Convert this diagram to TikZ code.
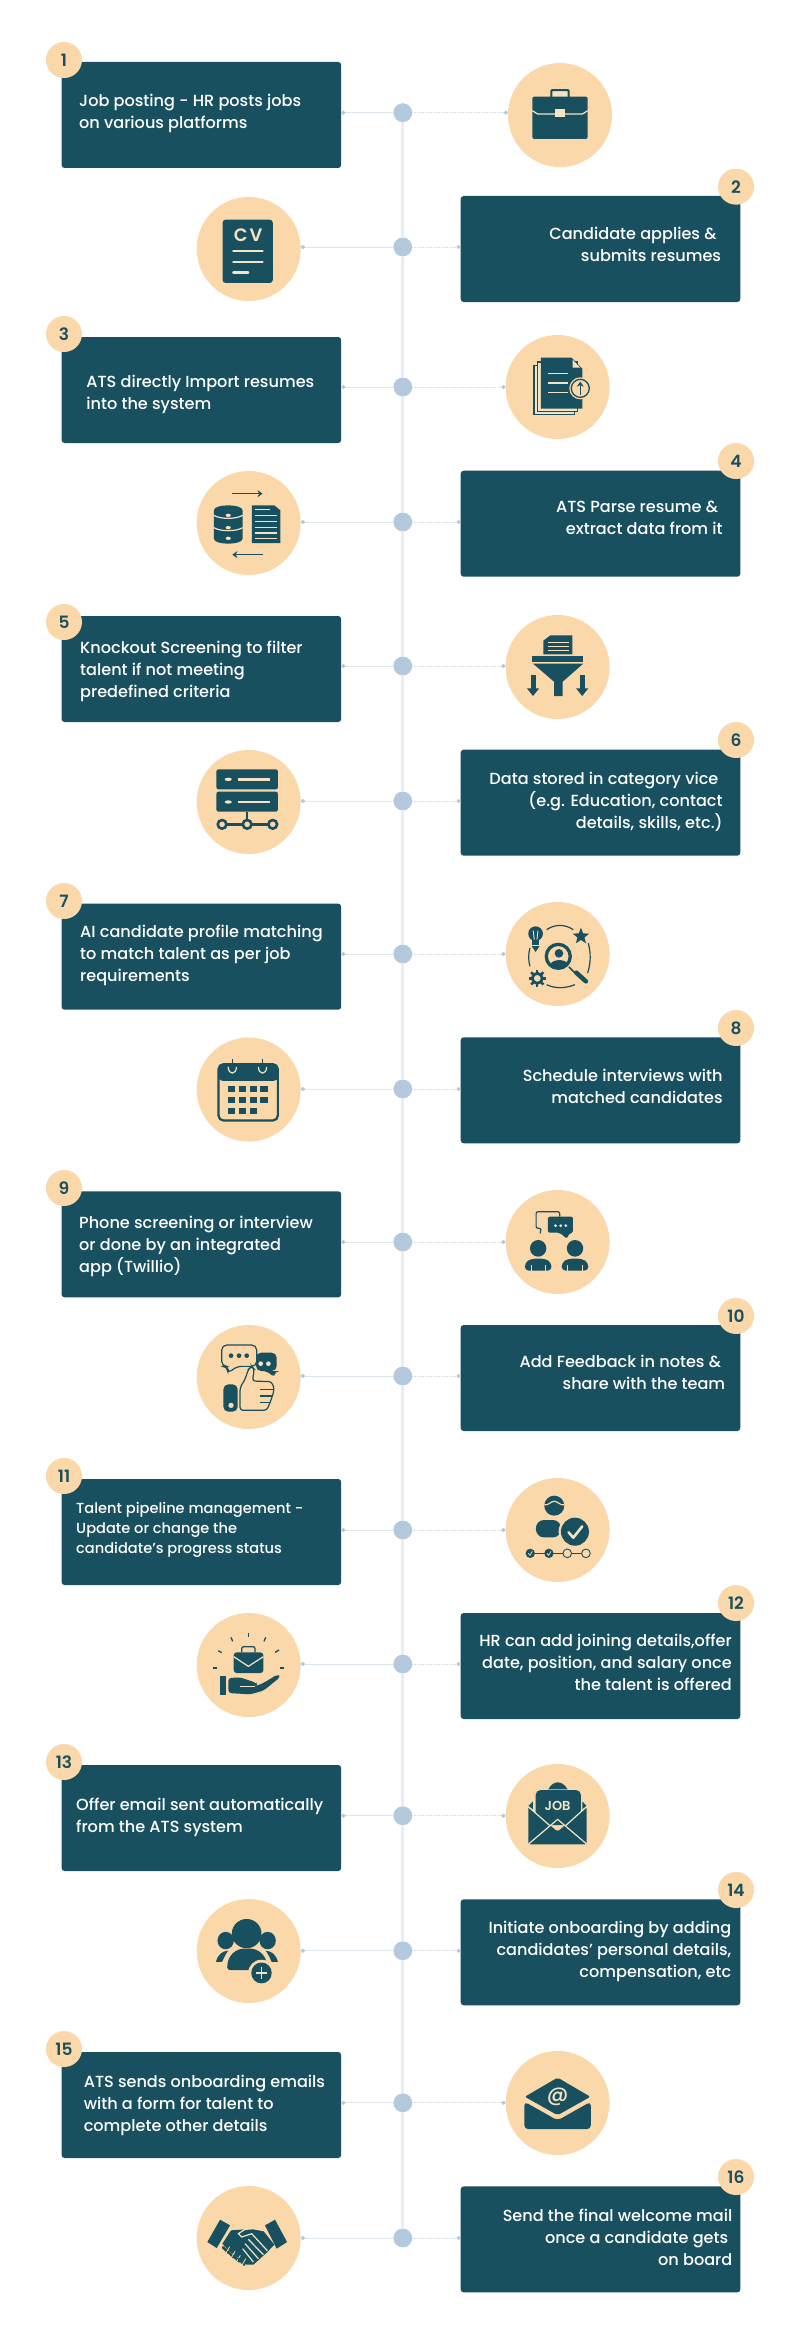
\documentclass[tikz,border=0pt]{standalone}
\usepackage{fontspec}
\setmainfont{Poppins Medium}[BoldFont=Poppins SemiBold]
\usetikzlibrary{arrows.meta}
\definecolor{ink}{HTML}{18505F}
\definecolor{peach}{HTML}{FBD8A9}
\definecolor{cream}{HTML}{F6E3C4}
\definecolor{spotc}{HTML}{B4C9DD}
\definecolor{spinec}{HTML}{E8EEF4}
\definecolor{linkc}{HTML}{DDE6EC}
\tikzset{
  x=1pt,y=-1pt,
  card/.style={rectangle,rounded corners=3pt,fill=ink,minimum width=279.6pt,minimum height=106pt,inner sep=0pt},
  bubble/.style={circle,fill=peach,minimum size=104pt,inner sep=0pt},
  spot/.style={circle,fill=spotc,minimum size=18.5pt,inner sep=0pt},
  badge/.style={circle,fill=peach,minimum size=36pt,inner sep=0pt,text=ink,font=\fontsize{17}{18}\selectfont\bfseries},
  lbl/.style={text=white,inner sep=0pt,font=\fontsize{16.1}{22}\selectfont},
  lft/.style={lbl,anchor=north west,align=left},
  rgt/.style={lbl,anchor=north east,align=right},
  solidlink/.style={draw=linkc,line width=1pt,{Circle[length=4pt,color=spotc]}-},
  dotlink/.style={draw=linkc!80!spotc,line width=1pt,dash pattern=on 1pt off .6pt,-{Circle[length=4pt,color=spotc]}},
  inkfill/.style={fill=ink,draw=none},
  inkline/.style={draw=ink,line width=1.2pt},
  crline/.style={draw=cream,line width=1.2pt},
  zm/.style args={#1/#2/#3/#4/#5}{shift={(#1.center)},x=#4pt,y=-#5pt,shift={(-#2,-#3)}},
  icontext/.style={text=cream,inner sep=0pt,font=\bfseries},
}
\begin{document}
\begin{tikzpicture}
\useasboundingbox (0,0) rectangle (800,2344);
\fill[white] (0,0) rectangle (800,2344);
% spots
\foreach \n/\y in {1/112.7,2/247,3/387,4/522,5/666,6/801,7/954,8/1089,9/1242,10/1376,11/1530,12/1664,13/1815.7,14/1950.7,15/2102.8,16/2238}
  \node[spot] (d\n) at (402.8,\y) {};
% cards
\foreach \n/\y in {1/115,3/390,5/669,7/956.7,9/1244.3,11/1532,13/1818,15/2105}
  \node[card] (b\n) at (201.4,\y) {};
\foreach \n/\y in {2/249,4/523.7,6/802.7,8/1090.3,10/1378,12/1666,14/1952.3,16/2239.4}
  \node[card] (b\n) at (600.5,\y) {};
% circles
\node[bubble] (c1) at (560,115) {};
\foreach \n/\y in {3/387,5/667,7/954,9/1242,11/1530,13/1816,15/2103}
  \node[bubble] (c\n) at (557.6,\y) {};
\foreach \n/\y in {2/249,4/523,6/802,8/1089.5,10/1377,12/1665,14/1951,16/2238}
  \node[bubble] (c\n) at (248.7,\y) {};
% spine and links
\draw[spinec,line width=3.2pt] (d1) -- (d16);
\foreach \n in {1,3,5,7,9,11,13,15}{
  \draw[solidlink] (b\n.east |- d\n) -- (d\n);
  \draw[dotlink] (d\n) -- (c\n.west |- d\n);
}
\foreach \n in {2,4,6,8,10,12,14,16}{
  \draw[solidlink] (c\n.east |- d\n) -- (d\n);
  \draw[dotlink] (d\n) -- (b\n.west |- d\n);
}
\foreach \n in {1,...,16} \node[spot] at (d\n) {};
% badges
\foreach \n/\y in {1/60,3/334,5/622,7/901,9/1188,11/1476,13/1762,15/2049}
  \node[badge] (n\n) at (64,\y) {\n};
\foreach \n/\y in {2/186.7,4/461,6/740,8/1028,10/1316,12/1603,14/1890,16/2177}
  \node[badge] (n\n) at (736,\y) {\n};
% texts
\node[lft] (t1) at (79,90.7) {\strut Job posting - HR posts jobs\\on various platforms};
\node[rgt] (t2) at (721.3,223.7) {\strut Candidate applies \&\kern4.6pt\\submits resumes};
\node[lft] (t3) at (86.2,371.7) {\strut ATS directly Import resumes\\into the system};
\node[rgt] (t4) at (722.8,496.7) {\strut ATS Parse resume \&\kern4.6pt\\extract data from it};
\node[lft] (t5) at (80,637.7) {\strut Knockout Screening to filter\\talent if not meeting\\predefined criteria};
\node[rgt] (t6) at (722.8,768.7) {\strut Data stored in category vice\kern4.2pt\\(e.g. Education, contact\\details, skills, etc.)};
\node[lft] (t7) at (80,921.7) {\strut AI candidate profile matching\\to match talent as per job\\requirements};
\node[rgt] (t8) at (722.8,1065.7) {\strut Schedule interviews with\\matched candidates};
\node[lft] (t9) at (79,1213.3) {\strut Phone screening or interview\\or done by an integrated\\app (Twillio)};
\node[rgt] (t10) at (725.4,1351.7) {\strut Add Feedback in notes \&\kern4.2pt\\share with the team};
\node[lft,font=\fontsize{14.6}{20}\selectfont] (t11) at (76,1499) {\strut Talent pipeline management -\\Update or change the\\candidate's progress status};
\node[rgt] (t12) at (732,1630.7) {\strut HR can add joining details,offer\\date, position, and salary once\\the talent is offered};
\node[lft] (t13) at (76,1794.7) {\strut Offer email sent automatically\\from the ATS system};
\node[rgt] (t14) at (731.5,1918) {\strut Initiate onboarding by adding\\candidates' personal details,\\compensation, etc};
\node[lft] (t15) at (83.6,2071.6) {\strut ATS sends onboarding emails\\with a form for talent to\\complete other details};
\node[rgt] (t16) at (732.5,2206) {\strut Send the final welcome mail\\once a candidate gets\kern4.1pt\\on board};
% icon 1: briefcase
\begin{scope}[zm=c1/1100/345/.5118/.3333]
  \draw[ink,line width=2pt,fill=cream,rounded corners=1pt] (1083,292)--(1083,270)--(1117,270)--(1117,292);
  \fill[inkfill,rounded corners=2pt] (1046,290) rectangle (1154,417);
  \draw[crline] (1046,332)--(1056,342)--(1144,342)--(1154,332);
  \fill[cream] (1090,326) rectangle (1110,350);
\end{scope}
% icon 2: CV
\begin{scope}[zm=c2/488/746/.5118/.3333]
  \fill[inkfill,rounded corners=3pt] (437,658) rectangle (535,848);
  \node[icontext,font=\fontsize{18}{18}\selectfont\bfseries] (cvt) at (487,704) {C\kern2pt V};
  \draw[crline,line width=2.6pt,line cap=round] (458,752)--(515,752);
  \draw[crline,line width=2.6pt,line cap=round] (458,785)--(515,785);
  \draw[crline,line width=2.6pt,line cap=round] (458,817)--(487,817);
\end{scope}
% icon 3: documents
\begin{scope}[zm=c3/158/170/.3333/.3333]
  \draw[inkline,fill=cream] (87,105) rectangle (208,252);
  \draw[inkline,fill=cream] (97,95) rectangle (218,243);
  \fill[inkfill] (108,82)--(200,82)--(232,115)--(232,235)--(108,235)--cycle;
  \fill[cream] (203,88)--(226,112)--(203,112)--cycle;
  \foreach \y in {130,158,187} \draw[crline] (130,\y)--(188,\y);
  \fill[peach] (226,174) circle (33);
  \draw[ink,line width=1.3pt] (226,174) circle (27);
  \draw[ink,line width=1.4pt,-{Stealth[length=5pt,width=7pt]}] (226,193)--(226,154);
\end{scope}
% icon 4: database and document
\begin{scope}[zm=c4/488/308/.5118/.3333]
  \draw[inkline,line width=1.4pt,-{Stealth[length=5pt,width=7pt]}] (456,220)--(515,220);
  \draw[inkline,line width=1.4pt,-{Stealth[length=5pt,width=7pt]}] (515,403)--(456,403);
  \fill[inkfill] (420,270) .. controls (420,250) and (476,250) .. (476,270) -- (476,355) .. controls (476,375) and (420,375) .. (420,355) -- cycle;
  \draw[crline] (420,285) .. controls (432,297) and (464,297) .. (476,285);
  \draw[crline] (420,322) .. controls (432,334) and (464,334) .. (476,322);
  \fill[cream] (448,285) circle (5);
  \fill[cream] (448,322) circle (5);
  \fill[cream] (448,354) circle (5);
  \fill[inkfill] (494,255)--(538,255)--(550,270)--(550,368)--(494,368)--cycle;
  \foreach \y in {285,303,321,338,355} \draw[crline] (500,\y)--(544,\y);
  \draw[crline] (500,268)--(530,268);
\end{scope}
% icon 5: funnel
\begin{scope}[zm=c5/1094/741/.5118/.3333]
  \fill[inkfill] (1080,646)--(1123,646)--(1123,703)--(1066,703)--(1066,662)--cycle;
  \foreach \y in {668,680,692} \draw[cream,line width=.9pt] (1076,\y)--(1116,\y);
  \fill[inkfill] (1044,708) rectangle (1144,726);
  \fill[inkfill] (1046,731)--(1144,731)--(1104,785)--(1104,828)--(1087,828)--(1087,785)--cycle;
  \fill[inkfill] (1042,765) rectangle (1051,810);
  \fill[inkfill] (1138,765) rectangle (1147,810);
  \fill[inkfill] (1034,805)--(1058,805)--(1046,828)--cycle;
  \fill[inkfill] (1130,805)--(1154,805)--(1142,828)--cycle;
\end{scope}
% icon 6: server network
\begin{scope}[zm=c6/488/1146/.5118/.3333]
  \fill[inkfill,rounded corners=2pt] (425,1048) rectangle (545,1108);
  \fill[inkfill,rounded corners=2pt] (425,1115) rectangle (545,1175);
  \fill[cream] (448,1078) ellipse (7 and 5);
  \fill[cream] (448,1146) ellipse (7 and 5);
  \draw[crline,line width=2.4pt] (468,1078)--(530,1078);
  \draw[crline,line width=2.4pt] (468,1146)--(530,1146);
  \draw[inkline,line width=2.4pt] (485,1175)--(485,1213);
  \draw[inkline,line width=2.4pt] (430,1213)--(540,1213);
  \foreach \x in {436,485,535}{
    \draw[ink,line width=2.6pt,fill=peach] (\x,1213) ellipse (8.5 and 13);
  }
\end{scope}
% icon 7: search for talent
\begin{scope}[zm=c7/158/168/.3333/.3333]
  \fill[inkfill] (92,107) circle (22);
  \fill[inkfill] (81,118) rectangle (103,140);
  \draw[crline,line width=.9pt] (85,98)--(88,125);
  \draw[crline,line width=.9pt] (99,98)--(96,125);
  \fill[inkfill] (80,144)--(104,144)--(92,162)--cycle;
  \draw[inkline] (125,95) .. controls (150,78) and (180,78) .. (205,95);
  \draw[inkline] (250,135) .. controls (258,165) and (258,195) .. (248,225);
  \draw[inkline] (125,260) .. controls (150,272) and (180,272) .. (210,260);
  \draw[inkline] (75,150) .. controls (70,165) and (70,190) .. (75,205);
  \fill[inkfill] (228,89)--(234.5,106)--(252.7,107)--(238.5,118.4)--(243.3,136)--(228,126)--(212.7,136)--(217.5,118.4)--(203.3,107)--(221.5,106)--cycle;
  \draw[ink,line width=3.3pt] (160,175) circle (36);
  \fill[inkfill] (162,166) circle (13);
  \fill[inkfill] (136,200) .. controls (142,182) and (182,182) .. (188,198) .. controls (178,215) and (146,215) .. (136,200);
  \draw[ink,line width=1.6pt] (192,207)--(210,225);
  \draw[ink,line width=4.5pt,line cap=round] (214,224)--(243,250);
  \foreach \a in {0,45,...,315} \draw[ink,line width=2.4pt] (97,241) ++(\a:17) -- ++(\a:9);
  \draw[ink,line width=2.8pt,fill=peach] (97,241) circle (15);
\end{scope}
% icon 8: calendar
\begin{scope}[zm=c8/488/628/.5118/.3333]
  \draw[ink,line width=2.2pt,rounded corners=5pt] (429,552) rectangle (545,721);
  \fill[inkfill,rounded corners=4pt] (429,552)--(545,552)--(545,602)--(429,602)--cycle;
  \foreach \x in {456,515}{
    \draw[cream,line width=1.2pt] (\x-8,560) .. controls (\x-8,585) and (\x+8,585) .. (\x+8,560);
    \draw[ink,line width=1.2pt] (\x,535)--(\x,570);
  }
  \foreach \x in {455,476,497,518}{
    \fill[inkfill] (\x-7,616) rectangle (\x+7,636);
    \fill[inkfill] (\x-7,649) rectangle (\x+7,669);
  }
  \foreach \x in {455,476,497}
    \fill[inkfill] (\x-7,682) rectangle (\x+7,702);
\end{scope}
% icon 9: conversation
\begin{scope}[zm=c9/1094/1086/.5118/.3333]
  \draw[inkline,rounded corners=2pt] (1060,1060)--(1062,1045)--(1052,1045)--(1052,995)--(1098,995)--(1098,1010);
  \fill[inkfill,rounded corners=2pt] (1075,1010)--(1124,1010)--(1124,1058)--(1118,1058)--(1112,1076)--(1098,1058)--(1075,1058)--cycle;
  \foreach \x in {1090,1100,1110} \fill[cream] (\x,1037) ellipse (3 and 4.5);
  \foreach \x in {1056,1128}{
    \fill[inkfill] (\x,1105) ellipse (16 and 25);
    \fill[inkfill,rounded corners=4pt] (\x-26,1172)--(\x-26,1148)--(\x-14,1136)--(\x+14,1136)--(\x+26,1148)--(\x+26,1172)--cycle;
    \draw[peach,line width=.9pt] (\x-14,1155)--(\x-14,1172);
    \draw[peach,line width=.9pt] (\x+14,1155)--(\x+14,1172);
  }
\end{scope}
% icon 10: feedback
\begin{scope}[zm=c10/161/168/.3333/.3333]
  \fill[inkfill,rounded corners=5pt] (183,95)--(245,95)--(245,150)--(238,150)--(238,172)--(218,150)--(183,150)--cycle;
  \fill[cream] (197,128) circle (7);
  \fill[cream] (220,128) circle (7);
  \draw[inkline,fill=peach,rounded corners=5pt] (80,72)--(185,72)--(185,136)--(125,136)--(98,158)--(98,136)--(80,136)--cycle;
  \foreach \x in {108,132,155} \fill[inkfill] (\x,104) circle (7);
  \draw[inkline,fill=peach,rounded corners=3pt] (135,200)--(150,175)--(160,145)--(170,135)--(178,145)--(172,180)--(230,182)--(238,205)--(232,225)--(225,245)--(215,268)--(135,268)--cycle;
  \draw[inkline] (195,205)--(236,205);
  \draw[inkline] (195,225)--(232,225);
  \draw[inkline] (195,245)--(224,245);
  \fill[inkfill,rounded corners=5pt] (85,190) rectangle (128,272);
  \fill[peach] (108,253) circle (8);
\end{scope}
% icon 11: progress
\begin{scope}[zm=c11/158/168/.3333/.3333]
  \fill[inkfill] (148,95) circle (30);
  \draw[peach,line width=1.2pt] (118,92) .. controls (130,96) and (140,80) .. (148,82) .. controls (156,80) and (166,96) .. (178,92);
  \fill[inkfill,rounded corners=8pt] (93,190)--(93,138)--(168,138)--(168,190)--cycle;
  \fill[peach] (210,173) circle (49);
  \fill[inkfill] (210,173) circle (42);
  \draw[cream,line width=2.6pt,line cap=round,line join=round] (191,175)--(205,191)--(232,157);
  \draw[inkline,line width=.9pt] (76,238)--(243,238);
  \foreach \x in {76,132} \fill[inkfill] (\x,238) circle (14);
  \foreach \x in {76,132} \draw[cream,line width=.7pt] (\x-6,238)--(\x-1,244)--(\x+6,232);
  \foreach \x in {187,243} \draw[inkline,line width=.9pt,fill=peach] (\x,238) circle (13);
\end{scope}
% icon 12: job offer in hand
\begin{scope}[zm=c12/161/168/.3333/.3333]
  \foreach \a/\b/\c/\d in {160/72/160/85,108/85/113/97,212/85/207/97,70/125/80/131,252/123/240/130,55/177/67/177,254/177/266/177}
    \draw[ink,line width=1.3pt] (\a,\b)--(\c,\d);
  \draw[ink,line width=1.3pt,rounded corners=2pt] (140,130)--(140,113)--(180,113)--(180,130);
  \fill[inkfill,rounded corners=3pt] (116,130) rectangle (205,192);
  \draw[crline] (116,143)--(160,172)--(205,143);
  \fill[inkfill] (74,202) rectangle (93,258);
  \fill[inkfill,rounded corners=3pt] (100,207)--(135,205)--(185,222)--(186,228)--(180,232)--(205,222)--(248,196)--(256,204)--(205,245)--(165,256)--(100,252)--cycle;
  \draw[crline] (136,232)--(180,232);
\end{scope}
% icon 13: job envelope
\begin{scope}[zm=c13/158/168/.3333/.3333]
  \fill[inkfill] (130,88) .. controls (145,60) and (172,60) .. (188,88) -- cycle;
  \fill[inkfill,rounded corners=5pt] (92,90) rectangle (228,195);
  \fill[inkfill] (70,138)--(84,124)--(84,148)--cycle;
  \fill[inkfill] (245,138)--(232,124)--(232,148)--cycle;
  \fill[inkfill,rounded corners=2pt] (70,140)--(158,215)--(245,140)--(245,253)--(70,253)--cycle;
  \draw[crline] (70,140)--(135,197);
  \draw[crline] (245,140)--(182,197);
  \draw[crline] (72,251)--(158,178)--(244,251);
  \node[icontext,font=\fontsize{13}{13}\selectfont\bfseries] (jobt) at (158,138) {JOB};
\end{scope}
% icon 14: add people
\begin{scope}[zm=c14/488/435/.5118/.3481]
  \fill[inkfill] (484,385) ellipse (29 and 42);
  \fill[inkfill] (443,405) ellipse (16 and 25);
  \fill[inkfill] (525,405) ellipse (16 and 25);
  \fill[inkfill] (424,466) .. controls (428,445) and (436,435) .. (448,434) .. controls (442,445) and (440,455) .. (436,466) -- cycle;
  \fill[inkfill] (545,466) .. controls (541,445) and (533,435) .. (521,434) .. controls (527,445) and (529,455) .. (533,466) -- cycle;
  \fill[inkfill,rounded corners=3pt] (446,490) .. controls (446,445) and (465,428) .. (485,428) .. controls (505,428) and (524,445) .. (524,490) -- cycle;
  \fill[peach] (513,498) ellipse (26 and 38);
  \fill[inkfill] (513,498) ellipse (20 and 30);
  \draw[crline,line width=1.6pt] (502,498)--(524,498);
  \draw[crline,line width=1.6pt] (513,482)--(513,514);
\end{scope}
% icon 15: mail
\begin{scope}[zm=c15/1094/870/.5118/.3481]
  \fill[inkfill,rounded corners=2pt] (1094,797)--(1158,852)--(1094,905)--(1030,852)--cycle;
  \fill[inkfill,rounded corners=4pt] (1029,866)--(1094,920)--(1159,866)--(1159,945)--(1029,945)--cycle;
  \fill[inkfill] (1050,840) rectangle (1138,870);
  \node[icontext,font=\fontsize{21}{21}\selectfont] (att) at (1094,853) {@};
\end{scope}
% icon 16: handshake
\begin{scope}[zm=c16/161/218/.3333/.3333]
  \fill[inkfill] (75,163)--(105,180)--(65,248)--(37,230)--cycle;
  \fill[inkfill] (240,163)--(276,230)--(245,250)--(210,180)--cycle;
  \fill[inkfill] (82,235)--(108,195)--(150,192)--(175,190)--(205,197)--(238,238)--(215,262)--(175,298)--(155,298)--(100,255)--cycle;
  \draw[crline] (208,196)--(175,190)--(150,192)--(130,205)--(140,215)--(170,205)--(217,256);
  \draw[crline] (160,222)--(205,268);
  \draw[crline] (150,235)--(190,280);
  \draw[crline] (143,250)--(175,290);
  \foreach \x/\y in {92/254,108/268,124/280,140/290}{
    \draw[ink,line width=2.6pt,line cap=round] (\x-8,\y-8)--(\x+8,\y+8);
    \draw[peach,line width=.8pt] (\x+12,\y-10)--(\x-2,\y+14);
  }
\end{scope}
\end{tikzpicture}
\end{document}
